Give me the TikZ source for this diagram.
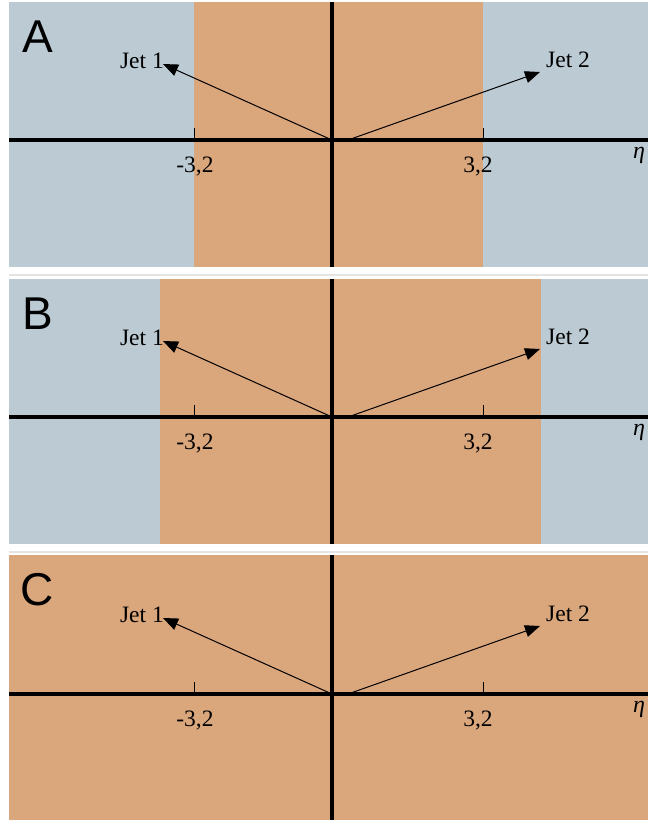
\documentclass[tikz,border=0pt]{standalone}
\usepackage{fontspec}
\setmainfont{Liberation Serif}
\newfontfamily\panelfont{Liberation Sans}
\usetikzlibrary{arrows.meta}
\definecolor{bluegrey}{RGB}{188,202,211}
\definecolor{sand}{RGB}{218,166,124}
\definecolor{sepline}{RGB}{228,228,228}
\tikzset{
  axisline/.style={line width=4pt, black},
  tickline/.style={line width=1pt, black},
  jetarrow/.style={line width=1pt, black, -{Triangle[length=15pt,width=12pt]}},
  jetlabel/.style={font=\fontsize{23.5}{25}\selectfont, inner sep=0pt},
  ticklabel/.style={font=\fontsize{23.5}{25}\selectfont, inner sep=0pt},
  letterlabel/.style={font=\panelfont\fontsize{46}{48}\selectfont, inner sep=0pt},
  etalabel/.style={font=\fontsize{24}{25}\selectfont\itshape, inner sep=0pt, anchor=base west}
}
% #1 letter, #2 top, #3 bottom, #4 axis y, #5 orange left, #6 orange right, #7 suffix
\newcommand{\jetpanel}[7]{
  \fill[bluegrey] (9,#2) rectangle (648,#3);
  \fill[sand] (#5,#2) rectangle (#6,#3);
  \draw[axisline] (9,#4) -- (648,#4);
  \draw[axisline] (332,#2) -- (332,#3);
  \coordinate (o#7) at (332,#4);
  \coordinate (s#7) at (348,#4);
  \coordinate (tl#7) at (194,#4-12);
  \coordinate (bl#7) at (194,#4);
  \coordinate (tr#7) at (483,#4-12);
  \coordinate (br#7) at (483,#4);
  \draw[tickline] (bl#7) -- (tl#7);
  \draw[tickline] (br#7) -- (tr#7);
  \node[ticklabel] (lm#7) at (195,#4+27) {-3,2};
  \node[ticklabel] (lp#7) at (478,#4+27) {3,2};
  \node[etalabel] (eta#7) at (633,#4+18) {η};
  \node[letterlabel] (let#7) at (37.5,#2+35) {#1};
  \node[jetlabel, anchor=east] (j1#7) at (164,#4-79) {Jet 1};
  \node[jetlabel, anchor=west] (j2#7) at (546,#4-80) {Jet 2};
  \coordinate (h1#7) at (163,#4-76);
  \coordinate (h2#7) at (540,#4-68);
  \draw[jetarrow] (o#7) -- (h1#7);
  \draw[jetarrow] (s#7) -- (h2#7);
}
\begin{document}
\begin{tikzpicture}[x=1pt,y=-1pt]
\useasboundingbox (0,0) rectangle (648,820);
\clip (0,0) rectangle (648,820);
\fill[white] (0,0) rectangle (648,820);
\draw[sepline, line width=1.5pt] (9,275) -- (648,275);
\draw[sepline, line width=1.5pt] (9,552) -- (648,552);
\jetpanel{A}{2}{267}{140}{194}{483}{a}
\jetpanel{B}{279}{544}{417}{160}{541}{b}
\jetpanel{C}{555}{822}{694}{9}{648}{c}
\end{tikzpicture}
\end{document}
